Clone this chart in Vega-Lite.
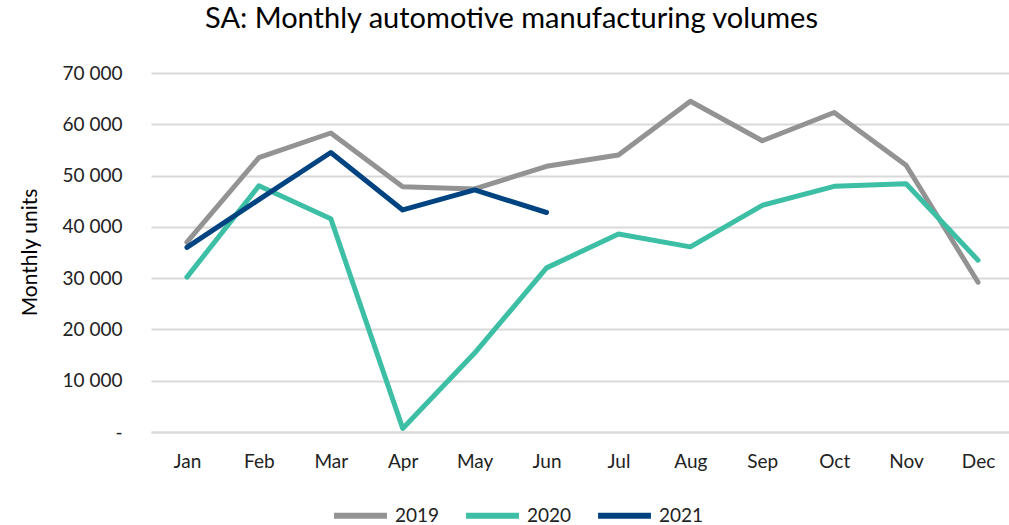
{
  "$schema": "https://vega.github.io/schema/vega-lite/v6.json",
  "width": 863,
  "height": 359,
  "autosize": "none",
  "padding": {"left": 151, "top": 73, "right": 0, "bottom": 93},
  "background": "white",
  "config": {
    "font": "Lato",
    "view": {"stroke": null}
  },
  "title": {
    "text": "SA: Monthly automotive manufacturing volumes",
    "fontSize": 29,
    "fontWeight": "normal",
    "color": "#000000",
    "anchor": "middle",
    "frame": "group",
    "dx": -71,
    "offset": 30
  },
  "data": {
    "values": [
      {"month": "Jan", "year": "2019", "units": 37000},
      {"month": "Feb", "year": "2019", "units": 53500},
      {"month": "Mar", "year": "2019", "units": 58300},
      {"month": "Apr", "year": "2019", "units": 47800},
      {"month": "May", "year": "2019", "units": 47400},
      {"month": "Jun", "year": "2019", "units": 51800},
      {"month": "Jul", "year": "2019", "units": 54000},
      {"month": "Aug", "year": "2019", "units": 64500},
      {"month": "Sep", "year": "2019", "units": 56800},
      {"month": "Oct", "year": "2019", "units": 62300},
      {"month": "Nov", "year": "2019", "units": 52000},
      {"month": "Dec", "year": "2019", "units": 29200},
      {"month": "Jan", "year": "2020", "units": 30200},
      {"month": "Feb", "year": "2020", "units": 48000},
      {"month": "Mar", "year": "2020", "units": 41600},
      {"month": "Apr", "year": "2020", "units": 700},
      {"month": "May", "year": "2020", "units": 15400},
      {"month": "Jun", "year": "2020", "units": 32000},
      {"month": "Jul", "year": "2020", "units": 38600},
      {"month": "Aug", "year": "2020", "units": 36100},
      {"month": "Sep", "year": "2020", "units": 44200},
      {"month": "Oct", "year": "2020", "units": 47900},
      {"month": "Nov", "year": "2020", "units": 48400},
      {"month": "Dec", "year": "2020", "units": 33500},
      {"month": "Jan", "year": "2021", "units": 36000},
      {"month": "Feb", "year": "2021", "units": 45300},
      {"month": "Mar", "year": "2021", "units": 54500},
      {"month": "Apr", "year": "2021", "units": 43300},
      {"month": "May", "year": "2021", "units": 47200},
      {"month": "Jun", "year": "2021", "units": 42800}
    ]
  },
  "mark": {"type": "line", "strokeWidth": 5, "strokeCap": "round", "strokeJoin": "round"},
  "encoding": {
    "x": {
      "field": "month",
      "type": "ordinal",
      "sort": ["Jan", "Feb", "Mar", "Apr", "May", "Jun", "Jul", "Aug", "Sep", "Oct", "Nov", "Dec"],
      "scale": {"type": "point", "padding": 0.5},
      "axis": {
        "title": null,
        "labelAngle": 0,
        "labelFontSize": 19,
        "labelColor": "#222222",
        "labelPadding": 20,
        "ticks": false,
        "domain": true,
        "domainColor": "#d9d9d9",
        "domainWidth": 2,
        "grid": false
      }
    },
    "y": {
      "field": "units",
      "type": "quantitative",
      "scale": {"domain": [0, 70000]},
      "axis": {
        "title": "Monthly units",
        "titleFontSize": 21,
        "titleFontWeight": "normal",
        "titleColor": "#000000",
        "titleAngle": -90,
        "titleX": -121,
        "titleY": 179,
        "titleAlign": "center",
        "titleBaseline": "middle",
        "values": [0, 10000, 20000, 30000, 40000, 50000, 60000, 70000],
        "labelExpr": "datum.value == 0 ? '-' : replace(format(datum.value, ','), ',', ' ')",
        "labelFontSize": 19,
        "labelColor": "#222222",
        "labelPadding": 29,
        "ticks": false,
        "domain": false,
        "grid": true,
        "gridColor": "#d9d9d9",
        "gridWidth": 2
      }
    },
    "color": {
      "field": "year",
      "type": "nominal",
      "scale": {"domain": ["2019", "2020", "2021"], "range": ["#939393", "#3cbfa4", "#004381"]},
      "legend": {
        "title": null,
        "orient": "none",
        "direction": "horizontal",
        "legendX": 180,
        "legendY": 413,
        "symbolType": "stroke",
        "symbolSize": 2800,
        "symbolStrokeWidth": 6,
        "labelFontSize": 19,
        "labelColor": "#222222",
        "labelOffset": 5,
        "columnPadding": 14
      }
    }
  }
}
